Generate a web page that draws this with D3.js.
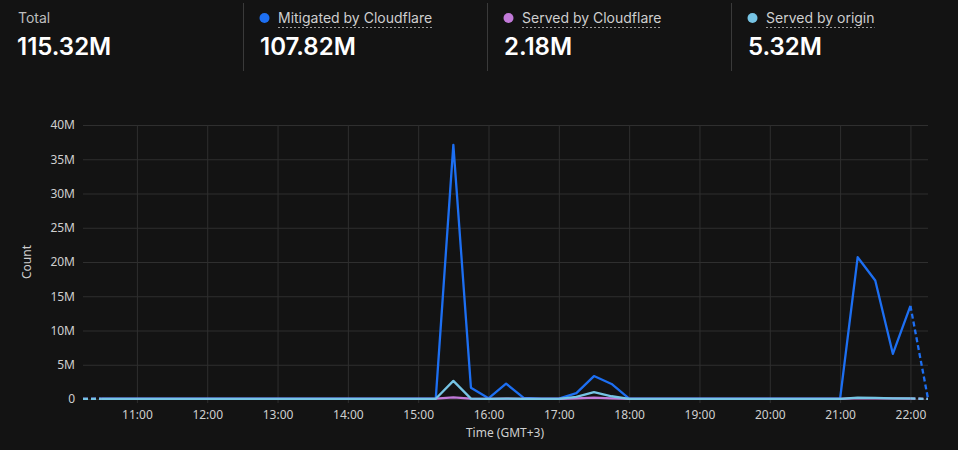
<!DOCTYPE html>
<html lang="en">
<head>
  <meta charset="UTF-8">
  <title>Requests</title>
  <script src="https://cdn.jsdelivr.net/npm/d3@7"></script>
  <style>
    html, body { margin: 0; padding: 0; background: #131313; }
    svg { display: block; }
  </style>
</head>
<body>
  <svg class="chart"></svg>
</body>
</html>
<script>
  var svgWidth = 958;
  var svgHeight = 450;

  // header cards
  var cardNames = ['Total', 'Mitigated by Cloudflare', 'Served by Cloudflare', 'Served by origin'];
  var cardTotals = ['115.32M', '107.82M', '2.18M', '5.32M'];
  var seriesColors = ['#1d6ff2', '#c27ad9', '#76c4e4'];

  // 15 minute buckets, first and last are partial (drawn dashed)
  var times = ['10:14', '10:30', '10:45', '11:00', '11:15', '11:30', '11:45', '12:00', '12:15', '12:30',
    '12:45', '13:00', '13:15', '13:30', '13:45', '14:00', '14:15', '14:30', '14:45', '15:00',
    '15:15', '15:30', '15:45', '16:00', '16:15', '16:30', '16:45', '17:00', '17:15', '17:30',
    '17:45', '18:00', '18:15', '18:30', '18:45', '19:00', '19:15', '19:30', '19:45', '20:00',
    '20:15', '20:30', '20:45', '21:00', '21:15', '21:30', '21:45', '22:00', '22:15'];
  var domainEnd = '22:15';

  // values in millions
  var mitigated = [0.02, 0.05, 0.04, 0.06, 0.05, 0.04, 0.05, 0.06, 0.04, 0.05,
    0.05, 0.04, 0.06, 0.05, 0.04, 0.05, 0.06, 0.05, 0.04, 0.05,
    0.06, 37.1, 1.65, 0.1, 2.25, 0.15, 0.05, 0.06, 0.85, 3.35,
    2.2, 0.06, 0.05, 0.04, 0.05, 0.06, 0.04, 0.05, 0.05, 0.04,
    0.06, 0.05, 0.04, 0.05, 20.7, 17.3, 6.6, 13.6, 0.05];
  var servedCf = [0.01, 0.03, 0.02, 0.03, 0.03, 0.02, 0.03, 0.03, 0.02, 0.03,
    0.03, 0.02, 0.03, 0.03, 0.02, 0.03, 0.03, 0.02, 0.03, 0.03,
    0.04, 0.25, 0.05, 0.03, 0.05, 0.03, 0.02, 0.03, 0.1, 0.2,
    0.1, 0.03, 0.03, 0.02, 0.03, 0.03, 0.02, 0.03, 0.03, 0.02,
    0.03, 0.03, 0.02, 0.03, 0.12, 0.1, 0.08, 0.06, 0.01];
  var servedOrigin = [0.01, 0.02, 0.01, 0.02, 0.02, 0.01, 0.02, 0.02, 0.01, 0.02,
    0.02, 0.01, 0.02, 0.02, 0.01, 0.02, 0.02, 0.01, 0.02, 0.02,
    0.03, 2.65, 0.05, 0.02, 0.06, 0.02, 0.02, 0.02, 0.3, 1.0,
    0.4, 0.02, 0.02, 0.01, 0.02, 0.02, 0.01, 0.02, 0.02, 0.01,
    0.02, 0.02, 0.01, 0.02, 0.2, 0.15, 0.1, 0.08, 0.01];

  var xTicks = ['11:00', '12:00', '13:00', '14:00', '15:00', '16:00', '17:00', '18:00', '19:00', '20:00', '21:00', '22:00'];
  var yTicks = [0, 5, 10, 15, 20, 25, 30, 35, 40];

  var margin = {top: 125, right: 30, bottom: 51, left: 83};
  var chartWidth = svgWidth - margin.left - margin.right;
  var chartHeight = svgHeight - margin.top - margin.bottom;

  var parseTime = d3.timeParse('%H:%M');

  var svg = d3.select('.chart')
    .attr('width', svgWidth)
    .attr('height', svgHeight);

  // ---- header ----
  var cardX = [0, 243, 487, 731];
  var header = svg.append('g').attr('font-family', 'Inter, sans-serif');

  cardNames.forEach(function(name, i) {
    var g = header.append('g').attr('transform', 'translate(' + cardX[i] + ',0)');
    var labelX = 18;
    if (i > 0) {
      labelX = 35;
      g.append('line')
        .attr('x1', 0.5).attr('x2', 0.5)
        .attr('y1', 3).attr('y2', 71)
        .attr('stroke', '#3a3a3a');
      g.append('circle')
        .attr('cx', 21.5).attr('cy', 18)
        .attr('r', 5)
        .attr('fill', seriesColors[i - 1]);
    }
    var lbl = g.append('text')
      .attr('x', labelX).attr('y', 23)
      .attr('font-size', 14)
      .attr('fill', i > 0 ? '#cfcfcf' : '#bdbdbd')
      .text(name);
    if (i > 0) {
      var w = lbl.node().getComputedTextLength();
      g.append('line')
        .attr('x1', labelX).attr('x2', labelX + w)
        .attr('y1', 27.5).attr('y2', 27.5)
        .attr('stroke', '#9a9a9a')
        .attr('stroke-dasharray', '2,2');
    }
    g.append('text')
      .attr('x', 17).attr('y', 55)
      .attr('font-size', 24)
      .attr('font-weight', 600)
      .attr('fill', '#ffffff')
      .text(cardTotals[i]);
  });

  // ---- chart ----
  var xScale = d3.scaleTime()
    .domain([parseTime(times[0]), parseTime(domainEnd)])
    .range([0, chartWidth]);
  var yScale = d3.scaleLinear()
    .domain([0, 40])
    .range([chartHeight, 0]);

  var chart = svg.append('g')
    .attr('transform', 'translate(' + margin.left + ',' + margin.top + ')')
    .attr('font-family', '"Noto Sans", sans-serif');

  var yAxis = d3.axisLeft(yScale)
    .tickValues(yTicks)
    .tickSize(-chartWidth)
    .tickPadding(8)
    .tickFormat(function(d) { return d === 0 ? '0' : d + 'M'; });
  var yg = chart.append('g').call(yAxis);
  yg.select('.domain').remove();
  yg.selectAll('line').attr('stroke', '#2f2f2f');
  yg.selectAll('text').attr('fill', '#cfcfcf').attr('font-size', 12).attr('font-family', '"Noto Sans", sans-serif');

  var xAxis = d3.axisBottom(xScale)
    .tickValues(xTicks.map(parseTime))
    .tickSize(-chartHeight - 4)
    .tickPadding(10)
    .tickFormat(d3.timeFormat('%H:%M'));
  var xg = chart.append('g')
    .attr('transform', 'translate(0,' + (chartHeight + 4) + ')')
    .call(xAxis);
  xg.select('.domain').remove();
  xg.selectAll('line').attr('stroke', '#2f2f2f');
  xg.selectAll('text').attr('fill', '#cfcfcf').attr('font-size', 12).attr('font-family', '"Noto Sans", sans-serif')
    .attr('dy', '0.5em');

  chart.append('text')
    .attr('transform', 'translate(' + (27 - margin.left) + ',' + (chartHeight / 2) + ') rotate(-90)')
    .attr('text-anchor', 'middle')
    .attr('dy', '0.35em')
    .attr('font-size', 12)
    .attr('fill', '#cfcfcf')
    .text('Count');

  chart.append('text')
    .attr('x', 505 - margin.left)
    .attr('y', 433 - margin.top)
    .attr('text-anchor', 'middle')
    .attr('dy', '0.35em')
    .attr('font-size', 12)
    .attr('fill', '#cfcfcf')
    .text('Time (GMT+3)');

  var line = d3.line()
    .x(function(d) { return xScale(parseTime(d.t)); })
    .y(function(d) { return yScale(d.v); });

  var allSeries = [mitigated, servedCf, servedOrigin];
  allSeries.forEach(function(values, s) {
    var pts = values.map(function(v, i) { return {t: times[i], v: v}; });
    var n = pts.length;
    // full buckets solid
    chart.append('path')
      .datum(pts.slice(1, n - 1))
      .attr('d', line)
      .attr('fill', 'none')
      .attr('stroke', seriesColors[s])
      .attr('stroke-width', 2.3)
      .attr('stroke-linejoin', 'round');
    // partial buckets dashed
    [pts.slice(0, 2), pts.slice(n - 2)].forEach(function(seg) {
      chart.append('path')
        .datum(seg)
        .attr('d', line)
        .attr('fill', 'none')
        .attr('stroke', seriesColors[s])
        .attr('stroke-width', 2.3)
        .attr('stroke-dasharray', '5,3');
    });
  });
</script>
